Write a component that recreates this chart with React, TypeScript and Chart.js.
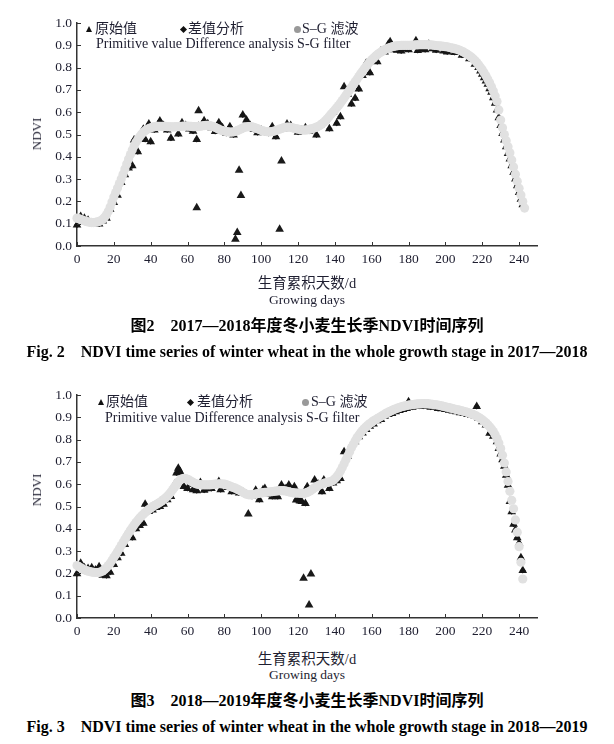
import React, { useEffect, useRef } from 'react';
import { Chart, registerables } from 'chart.js';
Chart.register(...registerables);

const SERIF = '"Liberation Serif", "Times New Roman", "Noto Sans CJK SC", serif';
const TEXT = '#1e1e30';

// ---------- Fig.2 (2017-2018) ----------
// S-G filtered NDVI, one value per growing day (day 0 .. 243)
const sg1: number[] = [
  .125,.122,.119,.116,.113,.110,.108,.106,.105,.105,
  .106,.108,.110,.114,.120,.129,.140,.156,.175,.197,
  .220,.240,.260,.280,.300,.322,.345,.368,.390,.410,
  .430,.448,.465,.478,.490,.501,.510,.517,.522,.527,
  .530,.533,.535,.536,.537,.537,.537,.536,.536,.535,
  .535,.534,.534,.534,.535,.535,.536,.537,.538,.538,
  .538,.537,.536,.535,.535,.535,.536,.537,.539,.540,
  .541,.541,.540,.538,.535,.532,.528,.524,.520,.517,
  .515,.513,.512,.511,.511,.512,.514,.517,.521,.525,
  .529,.532,.534,.535,.535,.534,.532,.529,.526,.522,
  .519,.516,.514,.513,.512,.512,.513,.515,.518,.521,
  .524,.527,.530,.532,.533,.533,.532,.530,.528,.526,
  .524,.522,.521,.520,.520,.521,.523,.525,.527,.530,
  .533,.537,.542,.548,.555,.563,.572,.582,.592,.601,
  .610,.620,.630,.641,.652,.664,.676,.688,.700,.712,
  .724,.736,.748,.760,.772,.784,.795,.806,.816,.826,
  .835,.843,.851,.858,.864,.870,.875,.880,.884,.887,
  .890,.893,.895,.897,.898,.899,.900,.900,.900,.900,
  .900,.900,.901,.901,.902,.902,.903,.903,.903,.903,
  .903,.902,.902,.901,.900,.899,.898,.897,.896,.895,
  .894,.893,.891,.889,.887,.885,.883,.880,.877,.873,
  .869,.864,.859,.853,.847,.840,.832,.823,.813,.802,
  .790,.777,.763,.748,.732,.714,.695,.673,.648,.610,
  .565,.530,.500,.472,.445,.418,.386,.354,.322,.290,
  .259,.229,.200,.170,
];

// original NDVI values [day, NDVI]
const raw1: [number, number][] = [
  [0,.094],[2,.132],[4,.125],[6,.115],[8,.104],[10,.100],[12,.099],[14,.112],[16,.125],[18,.165],
  [20,.195],[22,.228],[24,.285],[26,.320],[28,.350],[30,.360],[31,.475],[33,.423],[35,.500],[36,.523],
  [37,.478],[39,.547],[40,.468],[42,.520],[45,.560],[47,.540],[49,.520],[51,.483],[53,.530],[55,.502],
  [57,.553],[59,.540],[61,.525],[63,.515],[65,.478],[65,.172],[66,.607],[68,.545],[69,.562],[71,.548],
  [73,.530],[75,.513],[77,.553],[79,.530],[81,.505],[83,.535],[85,.498],[86,.030],[87,.060],[88,.340],
  [89,.227],[90,.587],[92,.565],[94,.540],[96,.522],[98,.508],[100,.520],[102,.510],[104,.505],[106,.535],
  [108,.490],[110,.075],[111,.381],[112,.525],[114,.547],[116,.540],[118,.525],[120,.510],[122,.520],[124,.530],
  [126,.515],[128,.520],[130,.498],[132,.543],[135,.565],[137,.526],[139,.600],[141,.550],[143,.580],[145,.714],
  [147,.680],[149,.637],[151,.662],[153,.704],[155,.765],[157,.820],[159,.777],[161,.845],[163,.826],[165,.875],
  [167,.870],[169,.905],[170,.916],[172,.880],[174,.878],[176,.875],[178,.885],[180,.880],[182,.895],[184,.920],
  [185,.877],[187,.885],[189,.880],[191,.905],[193,.885],[195,.878],[197,.890],[199,.875],[201,.870],[203,.880],
  [205,.868],[207,.872],[209,.855],[211,.858],[213,.840],[215,.838],[216,.815],[218,.800],[219,.785],[220,.770],
  [221,.755],[222,.740],[223,.725],[224,.705],[225,.690],[226,.665],[227,.640],[228,.610],[229,.575],[230,.540],
  [231,.505],[232,.475],[233,.445],[234,.415],[235,.390],[236,.360],[237,.330],[238,.300],[239,.270],[240,.240],
  [241,.210],[242,.185],
];

// difference-analysis NDVI [day, NDVI]
const diff1: [number, number][] = [
  [0,.094],[2,.132],[4,.125],[6,.115],[8,.104],[10,.100],[12,.099],[14,.112],[16,.125],[18,.165],
  [20,.195],[22,.228],[24,.285],[26,.320],[28,.350],[30,.360],[31,.475],[33,.423],[35,.500],[36,.523],
  [37,.478],[39,.547],[40,.468],[42,.520],[45,.560],[47,.540],[49,.520],[51,.483],[53,.530],[55,.502],
  [57,.553],[59,.540],[61,.525],[63,.515],[65,.478],[66,.545],[68,.545],[69,.562],[71,.548],
  [73,.530],[75,.513],[77,.553],[79,.530],[81,.505],[83,.535],[85,.498],[86,.515],[87,.518],[88,.522],
  [89,.525],[90,.587],[92,.565],[94,.540],[96,.522],[98,.508],[100,.520],[102,.510],[104,.505],[106,.535],
  [108,.490],[110,.522],[111,.527],[112,.525],[114,.547],[116,.540],[118,.525],[120,.510],[122,.520],[124,.530],
  [126,.515],[128,.520],[130,.498],[132,.543],[135,.565],[137,.526],[139,.600],[141,.550],[143,.580],[145,.668],
  [147,.680],[149,.637],[151,.662],[153,.704],[155,.765],[157,.820],[159,.777],[161,.845],[163,.826],[165,.875],
  [167,.870],[169,.905],[170,.916],[172,.880],[174,.878],[176,.875],[178,.885],[180,.880],[182,.895],[184,.920],
  [185,.877],[187,.885],[189,.880],[191,.905],[193,.885],[195,.878],[197,.890],[199,.875],[201,.870],[203,.880],
  [205,.868],[207,.872],[209,.855],[211,.858],[213,.840],[215,.838],[216,.815],[218,.800],[219,.785],[220,.770],
  [221,.755],[222,.740],[223,.725],[224,.705],[225,.690],[226,.665],[227,.640],[228,.610],[229,.575],[230,.540],
  [231,.505],[232,.475],[233,.445],[234,.415],[235,.390],[236,.360],[237,.330],[238,.300],[239,.270],[240,.240],
  [241,.210],[242,.185],
];

// ---------- Fig.3 (2018-2019) ----------
const sg2: number[] = [
  .235,.230,.225,.220,.216,.213,.210,.208,.206,.205,
  .204,.204,.205,.207,.211,.217,.225,.235,.246,.258,
  .271,.284,.297,.311,.325,.339,.353,.367,.380,.393,
  .405,.417,.428,.438,.448,.457,.465,.473,.480,.487,
  .493,.499,.504,.509,.514,.519,.525,.531,.538,.546,
  .555,.565,.576,.588,.600,.611,.619,.624,.626,.625,
  .622,.618,.613,.608,.604,.601,.599,.598,.597,.597,
  .597,.597,.597,.598,.599,.600,.601,.602,.602,.601,
  .600,.598,.595,.592,.588,.585,.582,.578,.574,.569,
  .564,.559,.555,.553,.552,.553,.554,.556,.558,.559,
  .561,.562,.563,.564,.565,.566,.567,.568,.569,.570,
  .571,.571,.571,.570,.568,.566,.564,.562,.561,.560,
  .560,.559,.559,.559,.560,.563,.567,.572,.578,.584,
  .589,.594,.598,.601,.604,.606,.608,.610,.613,.617,
  .624,.633,.645,.659,.675,.692,.710,.728,.746,.763,
  .779,.794,.808,.820,.831,.841,.850,.858,.865,.872,
  .878,.884,.889,.894,.899,.904,.909,.914,.919,.923,
  .927,.931,.935,.938,.941,.944,.947,.949,.951,.953,
  .955,.956,.957,.958,.959,.960,.960,.961,.961,.961,
  .961,.960,.959,.958,.957,.956,.955,.953,.951,.949,
  .947,.945,.943,.941,.939,.937,.935,.933,.931,.929,
  .927,.925,.922,.919,.916,.913,.909,.905,.900,.895,
  .889,.882,.875,.867,.858,.848,.836,.822,.805,.785,
  .760,.730,.695,.655,.612,.568,.528,.490,.440,.385,
  .320,.250,.175,
];

const raw2: [number, number][] = [
  [0,.198],[2,.245],[4,.225],[6,.222],[8,.225],[10,.215],[12,.230],[14,.192],[16,.190],[18,.205],
  [20,.240],[22,.270],[24,.290],[26,.330],[28,.390],[30,.360],[32,.400],[34,.415],[36,.425],[37,.510],
  [39,.478],[41,.484],[43,.495],[45,.500],[47,.510],[49,.530],[51,.545],[53,.600],[54,.650],[55,.671],
  [56,.655],[57,.640],[58,.590],[60,.581],[62,.600],[63,.575],[65,.571],[67,.608],[69,.573],[71,.580],
  [73,.581],[75,.595],[77,.612],[78,.575],[80,.595],[82,.585],[84,.566],[86,.575],[88,.560],[90,.565],
  [92,.555],[93,.466],[95,.545],[97,.573],[99,.530],[101,.575],[102,.581],[104,.555],[106,.544],[108,.548],
  [109,.544],[111,.596],[113,.580],[115,.596],[117,.575],[118,.589],[119,.529],[120,.535],[121,.525],[122,.522],
  [123,.178],[124,.514],[125,.589],[126,.058],[127,.197],[129,.619],[131,.600],[133,.566],[134,.619],[136,.600],
  [137,.581],[139,.605],[141,.615],[143,.626],[145,.745],[147,.725],[149,.775],[151,.790],[153,.813],[155,.830],
  [157,.845],[159,.860],[161,.870],[163,.885],[165,.890],[167,.905],[169,.912],[171,.917],[173,.925],[175,.930],
  [177,.935],[179,.940],[180,.970],[182,.945],[184,.948],[186,.950],[188,.950],[190,.955],[192,.945],[194,.948],
  [196,.940],[198,.938],[200,.935],[202,.932],[204,.928],[206,.925],[208,.920],[210,.918],[212,.913],[214,.910],
  [216,.905],[217,.948],[218,.895],[220,.880],[222,.865],[224,.828],[226,.815],[228,.790],[229,.760],[230,.735],
  [231,.710],[232,.680],[233,.640],[234,.595],[235,.522],[236,.477],[237,.420],[238,.395],[239,.360],[240,.335],
  [241,.270],[242,.213],
];

const diff2: [number, number][] = [
  [0,.198],[2,.245],[4,.225],[6,.222],[8,.225],[10,.215],[12,.230],[14,.192],[16,.190],[18,.205],
  [20,.240],[22,.270],[24,.290],[26,.330],[28,.390],[30,.360],[32,.400],[34,.415],[36,.425],[37,.510],
  [39,.478],[41,.484],[43,.495],[45,.500],[47,.510],[49,.530],[51,.545],[53,.600],[54,.650],[55,.671],
  [56,.655],[57,.640],[58,.590],[60,.581],[62,.600],[63,.575],[65,.571],[67,.608],[69,.573],[71,.580],
  [73,.581],[75,.595],[77,.612],[78,.575],[80,.595],[82,.585],[84,.566],[86,.575],[88,.560],[90,.565],
  [92,.555],[93,.552],[95,.545],[97,.573],[99,.530],[101,.575],[102,.581],[104,.555],[106,.544],[108,.548],
  [109,.544],[111,.596],[113,.580],[115,.596],[117,.575],[118,.589],[119,.529],[120,.535],[121,.525],[122,.522],
  [123,.560],[124,.514],[125,.589],[126,.568],[127,.574],[129,.619],[131,.600],[133,.566],[134,.619],[136,.600],
  [137,.581],[139,.605],[141,.615],[143,.626],[145,.745],[147,.725],[149,.775],[151,.790],[153,.813],[155,.830],
  [157,.845],[159,.860],[161,.870],[163,.885],[165,.890],[167,.905],[169,.912],[171,.917],[173,.925],[175,.930],
  [177,.935],[179,.940],[180,.970],[182,.945],[184,.948],[186,.950],[188,.950],[190,.955],[192,.945],[194,.948],
  [196,.940],[198,.938],[200,.935],[202,.932],[204,.928],[206,.925],[208,.920],[210,.918],[212,.913],[214,.910],
  [216,.905],[217,.948],[218,.895],[220,.880],[222,.865],[224,.828],[226,.815],[228,.790],[229,.760],[230,.735],
  [231,.710],[232,.680],[233,.640],[234,.595],[235,.522],[236,.477],[237,.420],[238,.395],[239,.360],[240,.335],
  [241,.270],[242,.213],
];

// axes
const X_MIN = 0, X_MAX = 250;
const xTicks = [0, 20, 40, 60, 80, 100, 120, 140, 160, 180, 200, 220, 240];
const Y_MIN = 0, Y_MAX = 1;
const yTicks = [0, 0.1, 0.2, 0.3, 0.4, 0.5, 0.6, 0.7, 0.8, 0.9, 1.0];

const inwardTicks = {
  id: 'inwardTicks',
  afterDraw(chart: any) {
    const { ctx, chartArea, scales } = chart;
    const xs = scales.x, ys = scales.y;
    ctx.save();
    ctx.strokeStyle = '#333';
    ctx.lineWidth = 1;
    ctx.beginPath();
    xs.ticks.forEach((t: any) => {
      const px = Math.round(xs.getPixelForValue(t.value)) + 0.5;
      ctx.moveTo(px, chartArea.bottom);
      ctx.lineTo(px, chartArea.bottom - 4);
    });
    ys.ticks.forEach((t: any) => {
      const py = Math.round(ys.getPixelForValue(t.value)) + 0.5;
      ctx.moveTo(chartArea.left, py);
      ctx.lineTo(chartArea.left + 4, py);
    });
    ctx.stroke();
    ctx.restore();
  },
};

function NdviChart({ sg, raw, diff, top }: { sg: number[]; raw: [number, number][]; diff: [number, number][]; top: number }) {
  const ref = useRef<HTMLCanvasElement>(null);
  useEffect(() => {
    const chart = new Chart(ref.current as HTMLCanvasElement, {
      type: 'scatter',
      data: {
        datasets: [
          {
            label: 'S-G filter',
            data: sg.map((v, i) => ({ x: i, y: v })),
            pointStyle: 'circle',
            pointRadius: 4.6,
            pointBorderWidth: 0,
            backgroundColor: '#e1e1e1',
            borderColor: '#e1e1e1',
            clip: false,
            order: 0,
          } as any,
          {
            label: 'Difference analysis',
            data: diff.map(([d, v]) => ({ x: d, y: v })),
            pointStyle: 'rectRot',
            pointRadius: 3,
            pointBorderWidth: 0,
            backgroundColor: '#151515',
            borderColor: '#151515',
            clip: false,
            order: 1,
          } as any,
          {
            label: 'Primitive value',
            data: raw.map(([d, v]) => ({ x: d, y: v })),
            pointStyle: 'triangle',
            pointRadius: 5,
            pointBorderWidth: 0,
            backgroundColor: '#1a1a1a',
            borderColor: '#1a1a1a',
            clip: false,
            order: 2,
          } as any,
        ],
      },
      options: {
        animation: false,
        responsive: false,
        devicePixelRatio: 1,
        layout: { autoPadding: false, padding: { top: 23, right: 22.5, left: 0, bottom: 0 } },
        plugins: { legend: { display: false }, tooltip: { enabled: false } },
        scales: {
          x: {
            type: 'linear',
            min: X_MIN,
            max: X_MAX,
            afterBuildTicks: (s: any) => { s.ticks = xTicks.map((v) => ({ value: v })); },
            afterFit: (s: any) => { s.height = 29; },
            ticks: { autoSkip: false, maxRotation: 0, padding: 5, color: TEXT, font: { family: SERIF, size: 13.5 } },
            grid: { display: false, drawTicks: false },
            border: { display: true, color: '#333', width: 1.5 },
          },
          y: {
            type: 'linear',
            min: Y_MIN,
            max: Y_MAX,
            afterBuildTicks: (s: any) => { s.ticks = yTicks.map((v) => ({ value: v })); },
            afterFit: (s: any) => { s.width = 77; },
            ticks: { autoSkip: false, padding: 5, color: TEXT, font: { family: SERIF, size: 13.5 }, callback: (v: any) => Number(v).toFixed(1) },
            grid: { display: false, drawTicks: false },
            border: { display: true, color: '#333', width: 1.5 },
          },
        },
      } as any,
      plugins: [inwardTicks],
    });
    return () => chart.destroy();
  }, []);
  return (
    <canvas
      ref={ref}
      width={560}
      height={275}
      style={{ position: 'absolute', left: 0, top, width: 560, height: 275, display: 'block' }}
    />
  );
}

function Centered({ cy, size, bold, children, left = 0, width = 614 }: any) {
  return (
    <div
      style={{
        position: 'absolute', left, width, top: cy - 10, height: 20, lineHeight: '20px',
        textAlign: 'center', fontFamily: SERIF, fontSize: size, fontWeight: bold ? 'bold' : 'normal',
        color: bold ? '#000' : TEXT, whiteSpace: 'pre',
      }}
    >
      {children}
    </div>
  );
}

function Txt({ x, cy, size = 14, children }: any) {
  return (
    <div style={{ position: 'absolute', left: x, top: cy - 10, height: 20, lineHeight: '20px', fontFamily: SERIF, fontSize: size, color: TEXT, whiteSpace: 'nowrap' }}>
      {children}
    </div>
  );
}

function Legend({ y1, y2, tri, dia, dot, t1, t2, t3, line2 }: any) {
  return (
    <>
      <div style={{ position: 'absolute', left: tri - 3.5, top: y1 - 3.5, width: 0, height: 0, borderLeft: '3.5px solid transparent', borderRight: '3.5px solid transparent', borderBottom: '6px solid #111' }} />
      <Txt x={t1} cy={y1}>原始值</Txt>
      <div style={{ position: 'absolute', left: dia - 2.5, top: y1 - 2.5, width: 5, height: 5, background: '#111', transform: 'rotate(45deg)' }} />
      <Txt x={t2} cy={y1}>差值分析</Txt>
      <div style={{ position: 'absolute', left: dot - 3.5, top: y1 - 3.5, width: 7, height: 7, borderRadius: '50%', background: '#999' }} />
      <Txt x={t3} cy={y1}>S–G 滤波</Txt>
      <Txt x={line2} cy={y2} size={14}>Primitive value Difference analysis S-G filter</Txt>
    </>
  );
}

function YTitle({ cy }: { cy: number }) {
  return (
    <div style={{ position: 'absolute', left: 37, top: cy, transform: 'translate(-50%, -50%) rotate(-90deg)', fontFamily: SERIF, fontSize: 13, color: TEXT, whiteSpace: 'nowrap', lineHeight: '14px' }}>
      NDVI
    </div>
  );
}

export default function App() {
  return (
    <div style={{ position: 'absolute', left: 0, top: 0, width: 614, height: 744, background: '#fff', overflow: 'hidden' }}>
      <NdviChart sg={sg1} raw={raw1} diff={diff1} top={0} />
      <Legend y1={29} y2={44} tri={89} dia={183} dot={297} t1={95} t2={188} t3={302} line2={96} />
      <YTitle cy={134} />
      <Centered cy={283} size={14.5} left={77} width={460}>生育累积天数/d</Centered>
      <Centered cy={300} size={13.5} left={77} width={460}>Growing days</Centered>
      <Centered cy={326} size={16} bold>{'图2    2017—2018年度冬小麦生长季NDVI时间序列'}</Centered>
      <Centered cy={352} size={16} bold>{'Fig. 2    NDVI time series of winter wheat in the whole growth stage in 2017—2018'}</Centered>

      <NdviChart sg={sg2} raw={raw2} diff={diff2} top={372} />
      <Legend y1={402} y2={418} tri={101} dia={190} dot={305} t1={106} t2={197} t3={311} line2={105} />
      <YTitle cy={490} />
      <Centered cy={659} size={14.5} left={77} width={460}>生育累积天数/d</Centered>
      <Centered cy={675} size={13.5} left={77} width={460}>Growing days</Centered>
      <Centered cy={701} size={16} bold>{'图3    2018—2019年度冬小麦生长季NDVI时间序列'}</Centered>
      <Centered cy={727} size={16} bold>{'Fig. 3    NDVI time series of winter wheat in the whole growth stage in 2018—2019'}</Centered>
    </div>
  );
}
